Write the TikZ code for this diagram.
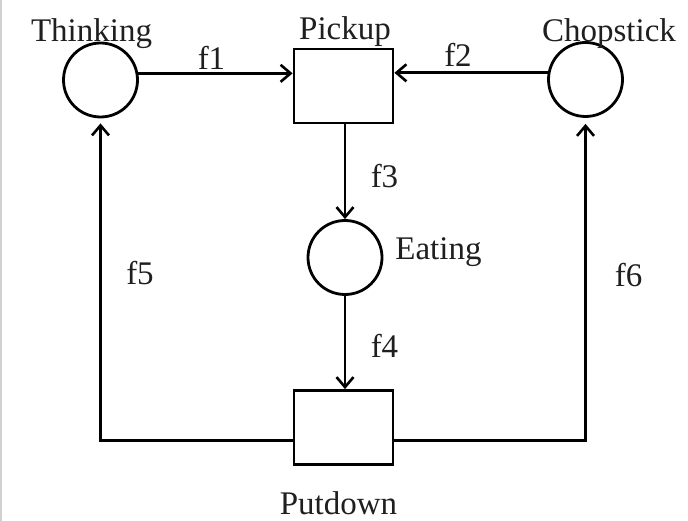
\documentclass[tikz,border=0pt]{standalone}
\usepackage{fontspec}
\setmainfont{Liberation Serif}
\usetikzlibrary{arrows.meta}
\begin{document}
\begin{tikzpicture}[x=1pt,y=-1pt,
  place/.style={draw,circle,line width=2.8pt,minimum size=74pt,inner sep=0pt},
  transition/.style={draw,rectangle,line width=2.8pt,minimum width=99pt,minimum height=74pt,inner sep=0pt},
  arc/.style={line width=2.8pt,-{Straight Barb[length=10pt,width=17pt,line width=2.6pt]}},
  lbl/.style={font=\fontsize{33}{33}\selectfont,text=black!88,inner sep=0pt,anchor=base}]
\useasboundingbox (0,0) rectangle (688,521);
\fill[white] (0,0) rectangle (688,521);
% thin page edge on the left
\draw[black!18,line width=2.5pt] (1.2,0) -- (1.2,521);

% places and transitions
\node[place] (thinking) at (100.5,80) {};
\node[place] (chopstick) at (585.5,79.5) {};
\node[place] (eating) at (345,257.5) {};
\node[transition] (pickup) at (343.5,86) {};
\node[transition] (putdown) at (343.5,427.5) {};

% names
\node[lbl] (tThinking) at (91.5,42) {Thinking};
\node[lbl] (tPickup) at (345,40) {Pickup};
\node[lbl] (tChopstick) at (609,42) {Chopstick};
\node[lbl] (tEating) at (438.5,260) {Eating};
\node[lbl] (tPutdown) at (338.5,514) {Putdown};

% arcs
\draw[arc] (thinking.10) -- (thinking.10 -| pickup.west);
\draw[arc] (chopstick.170) -- (chopstick.170 -| pickup.east);
\draw[arc] (pickup.south -| eating.north) -- (eating.north);
\draw[arc] (eating.south) -- (eating.south |- putdown.north);
\coordinate (pdL) at ([yshift=-13pt]putdown.west);
\coordinate (pdR) at ([yshift=-13pt]putdown.east);
\draw[arc,shorten >=5pt] (pdL) -- (pdL -| thinking.south) -- (thinking.south);
\draw[arc,shorten >=6pt] (pdR) -- (pdR -| chopstick.south) -- (chopstick.south);

% arc labels
\node[lbl] (f1) at (211.5,70) {f1};
\node[lbl] (f2) at (458,67) {f2};
\node[lbl] (f3) at (384.5,188) {f3};
\node[lbl] (f4) at (384.5,357) {f4};
\node[lbl] (f5) at (140,285) {f5};
\node[lbl] (f6) at (628.5,287) {f6};
\end{tikzpicture}
\end{document}
